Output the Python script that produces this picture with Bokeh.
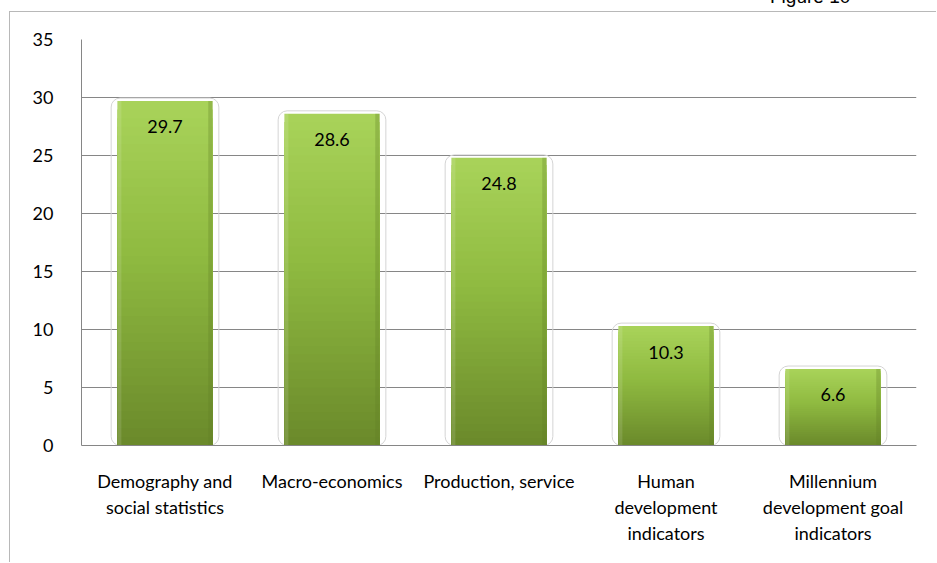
from bokeh.plotting import figure
from bokeh.models import Range1d, FactorRange, ColumnDataSource, Div
from bokeh.layouts import column
from bokeh.core.properties import value
from bokeh.transform import dodge
from bokeh.embed import file_html
from bokeh.resources import INLINE

categories = ["Demography and\nsocial statistics", "Macro-economics", "Production, service",
              "Human\ndevelopment\nindicators", "Millennium\ndevelopment goal\nindicators"]
values = [29.7, 28.6, 24.8, 10.3, 6.6]
value_labels = ["29.7", "28.6", "24.8", "10.3", "6.6"]
y_ticks = [0, 5, 10, 15, 20, 25, 30, 35]
caption = "Figure 10"

FONT = "Lato"
FS = "18px"

# the figure canvas starts at (10, 12) in the window, after a 1px frame line
CW, CH = 927, 551

p = figure(width=CW, height=CH, x_range=FactorRange(*categories), y_range=Range1d(0, 35),
           output_backend="svg", toolbar_location=None,
           min_border_left=71, min_border_right=21, min_border_top=27, min_border_bottom=118)
p.outline_line_color = None
p.background_fill_color = "white"
p.border_fill_color = "white"
p.margin = (0, 0, 0, 9)
p.styles = {"border-top": "1px solid #b8b8b8", "border-left": "1px solid #b8b8b8"}

src = ColumnDataSource(dict(cat=categories, val=values, top2=[v + 0.25 for v in values], lab=value_labels))

# faint rounded outline around each bar
p.vbar(x="cat", top="top2", bottom=0, width=0.645, source=src, fill_color=None,
       line_color="#d4d4d4", line_width=1, border_radius=9)

# gradient bar body (overlapping layers, drawn from the top down)
def mix(c1, c2, t):
    a = [int(c1[i:i + 2], 16) for i in (1, 3, 5)]
    b = [int(c2[i:i + 2], 16) for i in (1, 3, 5)]
    return "#%02x%02x%02x" % tuple(round(a[k] + (b[k] - a[k]) * t) for k in range(3))

N = 40
bottom_c, mid_c, top_c = "#6a892b", "#8fba40", "#a9d35a"
for i in range(N, 0, -1):
    t1 = i / N
    tm = (i - 0.5) / N
    col = mix(bottom_c, mid_c, tm / 0.55) if tm < 0.55 else mix(mid_c, top_c, (tm - 0.55) / 0.45)
    p.vbar(x=categories, bottom=0, top=[v * t1 for v in values],
           width=0.57, fill_color=col, line_color=None)

# bevel edges
p.vbar(x=dodge("cat", 0.272, range=p.x_range), top="val", bottom=0, width=0.026, source=src,
       fill_color="#5f7d25", fill_alpha=0.3, line_color=None)
p.vbar(x=dodge("cat", -0.273, range=p.x_range), top="val", bottom=0, width=0.024, source=src,
       fill_color="#ffffff", fill_alpha=0.12, line_color=None)

# value labels
p.text(x="cat", y="val", text="lab", source=src, text_align="center", text_baseline="middle",
       y_offset=26, text_font=value(FONT), text_font_size=FS, text_color="#000000")

# axes
p.xaxis.axis_line_color = "#868686"
p.xaxis.major_tick_line_color = None
p.xaxis.minor_tick_line_color = None
p.xaxis.major_label_text_font = FONT
p.xaxis.major_label_text_font_size = FS
p.xaxis.major_label_text_color = "#000000"
p.xaxis.major_label_text_line_height = 1.2
p.xaxis.major_label_standoff = 18
p.xaxis.major_label_orientation = "horizontal"

p.yaxis.ticker = y_ticks
p.yaxis.axis_line_color = "#868686"
p.yaxis.major_tick_line_color = None
p.yaxis.minor_tick_line_color = None
p.yaxis.major_label_text_font = FONT
p.yaxis.major_label_text_font_size = FS
p.yaxis.major_label_text_color = "#000000"
p.yaxis.major_label_standoff = 22

p.xgrid.grid_line_color = None
p.ygrid.grid_line_color = "#868686"
p.ygrid.grid_line_width = 1

# cut-off caption above the frame
cap = Div(text='<span style="position:absolute; left:770px; top:-17px; white-space:nowrap; '
               'font-family:\'Liberation Sans\'; font-size:19px; color:#000;">' + caption + '</span>',
          width=937, height=11, margin=(0, 0, 0, 0),
          styles={"position": "relative", "overflow": "visible"})

layout = column(cap, p, spacing=0, margin=(0, 0, 0, 0))

open("out.html", "w").write(file_html(layout, INLINE))
